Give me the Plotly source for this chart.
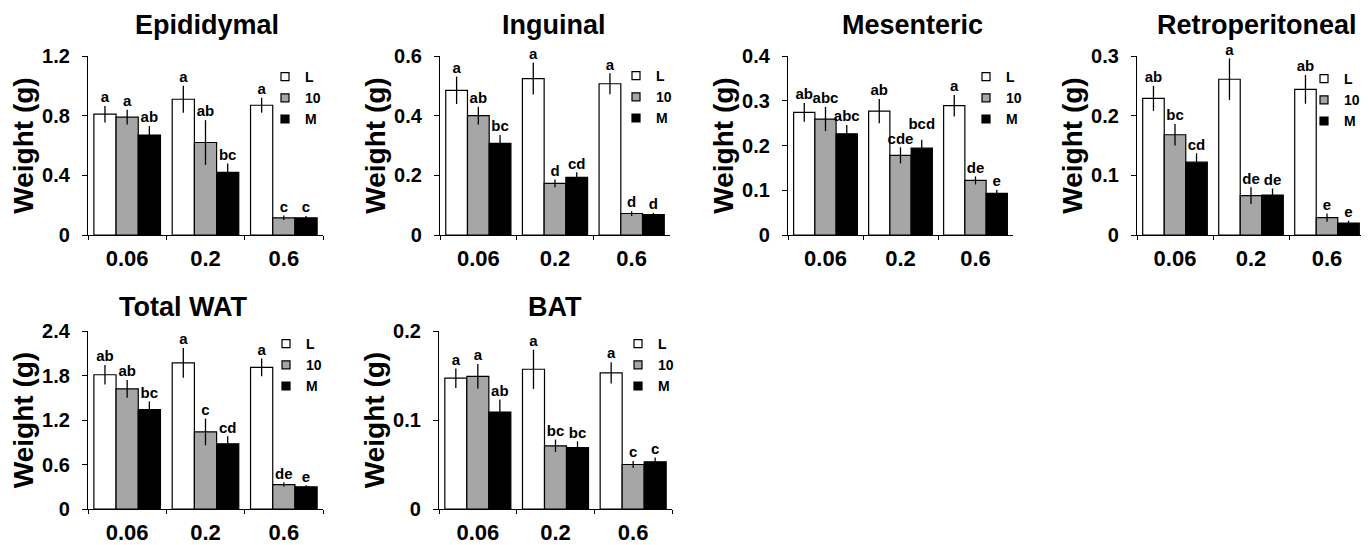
import plotly.graph_objects as go

# ---------------- data ----------------
doses = ["0.06", "0.2", "0.6"]
groups = ["L", "10", "M"]
titles = ["Epididymal", "Inguinal", "Mesenteric", "Retroperitoneal", "Total WAT", "BAT"]

epi_mean = {"L": [0.81, 0.91, 0.87], "10": [0.79, 0.62, 0.115], "M": [0.67, 0.42, 0.115]}
epi_err = {"L": [0.055, 0.09, 0.05], "10": [0.05, 0.15, 0.015], "M": [0.06, 0.06, 0.012]}
epi_let = {"L": ["a", "a", "a"], "10": ["a", "ab", "c"], "M": ["ab", "bc", "c"]}

ing_mean = {"L": [0.485, 0.524, 0.507], "10": [0.400, 0.173, 0.072], "M": [0.307, 0.193, 0.068]}
ing_err = {"L": [0.046, 0.053, 0.035], "10": [0.03, 0.013, 0.008], "M": [0.028, 0.017, 0.006]}
ing_let = {"L": ["a", "a", "a"], "10": ["ab", "d", "d"], "M": ["bc", "cd", "d"]}

mes_mean = {"L": [0.274, 0.277, 0.289], "10": [0.259, 0.178, 0.122], "M": [0.226, 0.194, 0.093]}
mes_err = {"L": [0.021, 0.027, 0.024], "10": [0.027, 0.018, 0.009], "M": [0.02, 0.019, 0.008]}
mes_let = {"L": ["ab", "ab", "a"], "10": ["abc", "cde", "de"], "M": ["abc", "bcd", "e"]}

ret_mean = {"L": [0.229, 0.261, 0.244], "10": [0.168, 0.066, 0.029], "M": [0.122, 0.067, 0.020]}
ret_err = {"L": [0.021, 0.035, 0.024], "10": [0.018, 0.014, 0.007], "M": [0.015, 0.011, 0.004]}
ret_let = {"L": ["ab", "a", "ab"], "10": ["bc", "de", "e"], "M": ["cd", "de", "e"]}

tot_mean = {"L": [1.81, 1.97, 1.91], "10": [1.62, 1.04, 0.33], "M": [1.34, 0.88, 0.30]}
tot_err = {"L": [0.13, 0.20, 0.12], "10": [0.12, 0.18, 0.03], "M": [0.11, 0.10, 0.02]}
tot_let = {"L": ["ab", "a", "a"], "10": ["ab", "c", "de"], "M": ["bc", "cd", "e"]}

bat_mean = {"L": [0.147, 0.157, 0.153], "10": [0.149, 0.071, 0.050], "M": [0.109, 0.069, 0.053]}
bat_err = {"L": [0.011, 0.022, 0.012], "10": [0.014, 0.007, 0.004], "M": [0.014, 0.007, 0.005]}
bat_let = {"L": ["a", "a", "a"], "10": ["a", "bc", "c"], "M": ["ab", "bc", "c"]}

y_max = [1.2, 0.6, 0.4, 0.3, 2.4, 0.2]
y_dtick = [0.4, 0.2, 0.1, 0.1, 0.6, 0.1]

panels = [
    (epi_mean, epi_err, epi_let),
    (ing_mean, ing_err, ing_let),
    (mes_mean, mes_err, mes_let),
    (ret_mean, ret_err, ret_let),
    (tot_mean, tot_err, tot_let),
    (bat_mean, bat_err, bat_let),
]

# ---------------- styling / layout ----------------
WIN_W, WIN_H = 1369, 545
OFF = 8                      # default page margin around the plot div
W, H = WIN_W - OFF, WIN_H - OFF
FONT = "Liberation Sans, Arial, sans-serif"
fill = {"L": "#ffffff", "10": "#a6a6a6", "M": "#000000"}
BARGAP = 0.15
LET_SIZE = 15
CHAR_W = 0.6 * LET_SIZE      # approx. bold glyph width
LINE_H = 15                  # min vertical separation of crowded letters (px)


def px(p):
    return (p - OFF) / W


def py(p):
    return 1 - (p - OFF) / H


x_px = [(88, 323), (440, 670), (788, 1013), (1137, 1365), (88, 323), (439, 672)]
y_px = [(56, 235)] * 4 + [(331, 509)] * 2
title_pos = [(207, 25), (554, 25), (912, 25), (1257, 25), (183, 307), (555, 307)]
legend_pos = [(285, 79), (636, 78), (986, 79), (1324, 81), (286, 346), (638, 346)]

fig = go.Figure()
layout = dict(
    width=W, height=H, margin=dict(l=0, r=0, t=0, b=0, autoexpand=False),
    paper_bgcolor="white", plot_bgcolor="white",
    barmode="group", bargap=BARGAP, bargroupgap=0.0,
    scattermode="group", scattergap=BARGAP,
    font=dict(family=FONT, color="black"),
    annotations=[],
)

for i, (mean, err, let) in enumerate(panels):
    k = "" if i == 0 else str(i + 1)
    xa, ya = "x" + k, "y" + k
    leg = "legend" + k
    ag = "p" + str(i)
    x0, x1 = x_px[i]
    yt, yb = y_px[i]
    units_per_px = y_max[i] / (yb - yt)
    slot_px = (x1 - x0) / len(doses) * (1 - BARGAP) / len(groups)

    # letter anchor heights (top of error bar); lift a letter when it would
    # collide with its left neighbour
    tops = {g: [m + e for m, e in zip(mean[g], err[g])] for g in groups}
    for c in range(len(doses)):
        for gi in range(1, len(groups)):
            gp, gc = groups[gi - 1], groups[gi]
            overlap = (len(let[gp][c]) + len(let[gc][c])) * CHAR_W / 2 - slot_px
            dy_px = (tops[gc][c] - tops[gp][c]) / units_per_px
            if overlap > 4 and abs(dy_px) < LINE_H:
                tops[gc][c] = tops[gp][c] + LINE_H * units_per_px

    for g in groups:
        fig.add_trace(go.Bar(
            x=doses, y=mean[g], xaxis=xa, yaxis=ya, name=g,
            offsetgroup=g, alignmentgroup=ag,
            marker=dict(color=fill[g], line=dict(color="black", width=1.2)),
            error_y=dict(type="data", array=err[g], color="black", thickness=1.3, width=0),
            showlegend=False,
        ))
    for g in groups:
        fig.add_trace(go.Scatter(
            x=doses, y=tops[g], xaxis=xa, yaxis=ya, mode="text", text=let[g],
            offsetgroup=g, alignmentgroup=ag,
            textposition="top center", cliponaxis=False,
            textfont=dict(family=FONT, size=LET_SIZE, weight="bold", color="black"),
            showlegend=False, hoverinfo="skip",
        ))
    for g in groups:
        fig.add_trace(go.Scatter(
            x=[None], y=[None], xaxis=xa, yaxis=ya, mode="markers", name=g,
            offsetgroup=g, alignmentgroup=ag,
            marker=dict(symbol="square", size=8, color=fill[g], line=dict(color="black", width=1.2)),
            legend=leg, showlegend=True,
        ))

    layout["xaxis" + k] = dict(
        domain=[px(x0), px(x1)], anchor=ya, type="category",
        showline=True, linecolor="black", linewidth=1.3,
        ticks="outside", tickson="boundaries", ticklen=4, tickcolor="black",
        tickfont=dict(family=FONT, size=22, weight="bold"), ticklabelstandoff=3,
        showgrid=False, zeroline=False, fixedrange=True,
    )
    layout["yaxis" + k] = dict(
        domain=[py(yb), py(yt)], anchor=xa,
        range=[0, y_max[i]], dtick=y_dtick[i], tick0=0,
        showline=True, linecolor="black", linewidth=1.3,
        ticks="outside", ticklen=5, tickcolor="black",
        tickfont=dict(family=FONT, size=20, weight="bold"), ticklabelstandoff=8,
        title=dict(text="Weight (g)", font=dict(family=FONT, size=28, weight="bold"), standoff=0),
        showgrid=False, zeroline=False, fixedrange=True,
    )
    tx, ty = title_pos[i]
    layout["annotations"].append(dict(
        text=titles[i], x=px(tx), y=py(ty), xref="paper", yref="paper",
        showarrow=False, xanchor="center", yanchor="middle",
        font=dict(family=FONT, size=27, weight="bold", color="black"),
    ))
    lx, ly = legend_pos[i]
    layout[leg] = dict(
        x=px(lx - 20), y=py(ly - 18), xanchor="left", yanchor="top",
        xref="paper", yref="paper", bgcolor="rgba(0,0,0,0)",
        font=dict(family=FONT, size=14, weight="bold", color="black"),
        itemwidth=30, tracegroupgap=0, borderwidth=0,
    )

fig.update_layout(**layout)
fig.write_html("out.html")
